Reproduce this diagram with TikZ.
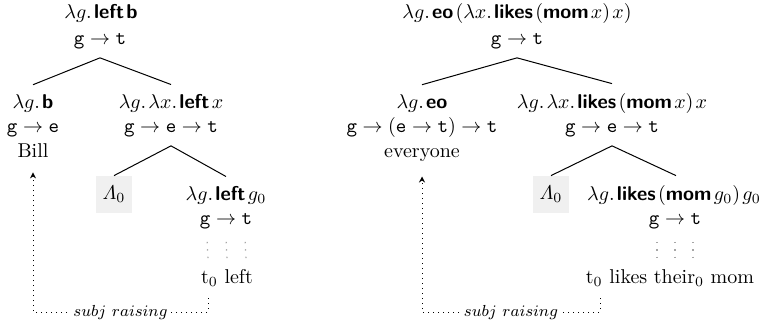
\documentclass[tikz,border=0pt]{standalone}
\usetikzlibrary{arrows.meta}
\newcommand\kon[1]{\textsf{\textbf{#1}}}
\newcommand\gsp{\mkern2mu}
\tikzset{
  lbl/.style={anchor=base, inner xsep=0pt, inner ysep=4.5pt},
  lam/.style={fill=black!6, minimum width=18pt, minimum height=18.5pt, inner sep=0pt},
  edge/.style={line width=0.5pt},
  vdots/.style={black!35, line width=0.6pt, dash pattern=on 0.7pt off 3pt, shorten <=2pt},
  raise/.style={line width=0.5pt, dotted, -{Stealth[length=3pt,width=3pt]}},
  rlabel/.style={fill=white, inner sep=1pt, font=\footnotesize}
}
\begin{document}
\begin{tikzpicture}[x=0.5pt, y=-0.5pt]
\useasboundingbox (0,0) rectangle (759,323);
% ---------- left tree ----------
\node[lbl] (a1)  at (101,18)  {$\lambda g.\gsp\kon{left}\gsp\kon{b}$};
\node[lbl] (a1t) at (100,44)  {$\mathtt{g}\to\mathtt{t}$};
\node[lbl] (b1)  at (33,108)  {$\lambda g.\gsp\kon{b}$};
\node[lbl] (b1t) at (33,132)  {$\mathtt{g}\to\mathtt{e}$};
\node[lbl] (b1w) at (33,157)  {Bill};
\node[lbl] (c1)  at (171,108) {$\lambda g.\gsp\lambda x.\gsp\kon{left}\gsp x$};
\node[lbl] (c1t) at (171,132) {$\mathtt{g}\to\mathtt{e}\to\mathtt{t}$};
\node[lam] (L1)  at (114,194.5) {$\mathnormal{\Lambda}_0$};
\node[lbl] (d1)  at (226,200) {$\lambda g.\gsp\kon{left}\gsp g_0$};
\node[lbl] (d1t) at (226,224) {$\mathtt{g}\to\mathtt{t}$};
\node[lbl] (e1)  at (227,283) {t$_0$ left};
\draw[edge] (a1t.south) -- (b1.north);
\draw[edge] (a1t.south) -- (c1.north);
\draw[edge] (c1t.south) -- (L1.north);
\draw[edge] (c1t.south) -- (d1.north);
\foreach \dx in {-19,0,19}
  \draw[vdots] ([xshift=\dx*0.5pt]d1t.south) -- ([xshift=\dx*0.5pt]e1.north);
\coordinate (s1) at (208,298);
\draw[raise,shorten >=3pt] (s1) -- ++(0,14) -| node[rlabel, pos=0.25] {$subj\ raising$} (b1w.south);
% ---------- right tree ----------
\node[lbl] (a2)  at (517,18)  {$\lambda g.\gsp\kon{eo}\gsp(\lambda x.\gsp\kon{likes}\gsp(\kon{mom}\gsp x)\gsp x)$};
\node[lbl] (a2t) at (517,44)  {$\mathtt{g}\to\mathtt{t}$};
\node[lbl] (b2)  at (422,108) {$\lambda g.\gsp\kon{eo}$};
\node[lbl] (b2t) at (422,132) {$\mathtt{g}\to(\mathtt{e}\to\mathtt{t})\to\mathtt{t}$};
\node[lbl] (b2w) at (422,157) {everyone};
\node[lbl] (c2)  at (612,108) {$\lambda g.\gsp\lambda x.\gsp\kon{likes}\gsp(\kon{mom}\gsp x)\gsp x$};
\node[lbl] (c2t) at (612,132) {$\mathtt{g}\to\mathtt{e}\to\mathtt{t}$};
\node[lam] (L2)  at (551,194.5) {$\mathnormal{\Lambda}_0$};
\node[lbl] (d2)  at (674,200) {$\lambda g.\gsp\kon{likes}\gsp(\kon{mom}\gsp g_0)\gsp g_0$};
\node[lbl] (d2t) at (675,224) {$\mathtt{g}\to\mathtt{t}$};
\node[lbl] (e2)  at (670,283) {t$_0$ likes their$_0$ mom};
\draw[edge] (a2t.south) -- (b2.north);
\draw[edge] (a2t.south) -- (c2.north);
\draw[edge] (c2t.south) -- (L2.north);
\draw[edge] (c2t.south) -- ([xshift=1pt]d2.north);
\foreach \dx in {-18,0,18}
  \draw[vdots] ([xshift=\dx*0.5pt]d2t.south) -- ([xshift=\dx*0.5pt]e2.north -| d2t.south);
\coordinate (s2) at (600,298);
\draw[raise,shorten >=3pt] (s2) -- ++(0,14) -| node[rlabel, pos=0.25] {$subj\ raising$} (b2w.south);
\end{tikzpicture}
\end{document}
